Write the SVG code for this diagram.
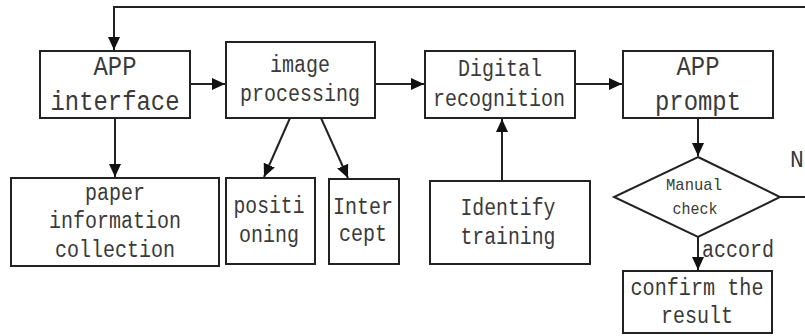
<svg xmlns="http://www.w3.org/2000/svg" width="805" height="336" viewBox="0 0 805 336">
  <style>
    .box { fill: #fff; stroke: #222; stroke-width: 2; }
    .ln { fill: none; stroke: #222; stroke-width: 2; }
    .arr { marker-end: url(#ah); }
    text { font-family: "Liberation Mono", "DejaVu Sans Mono", monospace; fill: #3a3a3a; text-anchor: middle; }
    .t { font-size: 23px; }
    .tb { font-size: 27px; }
    .ts { font-size: 17px; }
  </style>
  <defs>
    <marker id="ah" markerUnits="userSpaceOnUse" markerWidth="14" markerHeight="14" viewBox="0 0 14 14" refX="13" refY="7" orient="auto">
      <path d="M0,1 L13,7 L0,13 Z" fill="#111"/>
    </marker>
  </defs>

  <!-- connectors -->
  <g id="connectors">
    <polyline class="ln arr" points="805,7 114,7 114,50"/>
    <line class="ln arr" x1="190" y1="84" x2="225" y2="84"/>
    <line class="ln arr" x1="375" y1="84" x2="424" y2="84"/>
    <line class="ln arr" x1="575" y1="84" x2="622" y2="84"/>
    <line class="ln arr" x1="115" y1="118" x2="115" y2="177"/>
    <line class="ln arr" x1="290" y1="118" x2="264" y2="177"/>
    <line class="ln arr" x1="321" y1="118" x2="348" y2="178"/>
    <line class="ln arr" x1="502" y1="181" x2="502" y2="119"/>
    <line class="ln arr" x1="698" y1="118" x2="698" y2="156"/>
    <line class="ln arr" x1="698" y1="237" x2="698" y2="270"/>
    <line class="ln" x1="780" y1="197" x2="805" y2="197"/>
  </g>

  <g id="app-interface">
    <rect class="box" x="40" y="51" width="150" height="67"/>
    <text class="tb" x="115" y="75" textLength="43" lengthAdjust="spacingAndGlyphs">APP</text>
    <text class="tb" x="115" y="110" textLength="129" lengthAdjust="spacingAndGlyphs">interface</text>
  </g>

  <g id="image-processing">
    <rect class="box" x="226" y="42" width="149" height="76"/>
    <text class="t" x="300" y="72" textLength="60" lengthAdjust="spacingAndGlyphs">image</text>
    <text class="t" x="300" y="101" textLength="120" lengthAdjust="spacingAndGlyphs">processing</text>
  </g>

  <g id="digital-recognition">
    <rect class="box" x="425" y="51" width="150" height="67"/>
    <text class="t" x="500" y="76" textLength="84" lengthAdjust="spacingAndGlyphs">Digital</text>
    <text class="t" x="499" y="106" textLength="132" lengthAdjust="spacingAndGlyphs">recognition</text>
  </g>

  <g id="app-prompt">
    <rect class="box" x="623" y="51" width="150" height="67"/>
    <text class="tb" x="698" y="75" textLength="43" lengthAdjust="spacingAndGlyphs">APP</text>
    <text class="tb" x="698" y="110" textLength="86" lengthAdjust="spacingAndGlyphs">prompt</text>
  </g>

  <g id="paper-information">
    <rect class="box" x="11" y="178" width="208" height="88"/>
    <text class="t" x="115" y="200" textLength="60" lengthAdjust="spacingAndGlyphs">paper</text>
    <text class="t" x="115" y="228" textLength="132" lengthAdjust="spacingAndGlyphs">information</text>
    <text class="t" x="115" y="257" textLength="120" lengthAdjust="spacingAndGlyphs">collection</text>
  </g>

  <g id="positioning">
    <rect class="box" x="226" y="178" width="89" height="86"/>
    <text class="t" x="269" y="213" textLength="71" lengthAdjust="spacingAndGlyphs">positi</text>
    <text class="t" x="269" y="242" textLength="60" lengthAdjust="spacingAndGlyphs">oning</text>
  </g>

  <g id="intercept">
    <rect class="box" x="329" y="179" width="70" height="85"/>
    <text class="t" x="363" y="214" textLength="60" lengthAdjust="spacingAndGlyphs">Inter</text>
    <text class="t" x="363" y="241" textLength="48" lengthAdjust="spacingAndGlyphs">cept</text>
  </g>

  <g id="identify-training">
    <rect class="box" x="430" y="181" width="160" height="83"/>
    <text class="t" x="508" y="215" textLength="95" lengthAdjust="spacingAndGlyphs">Identify</text>
    <text class="t" x="508" y="244" textLength="95" lengthAdjust="spacingAndGlyphs">training</text>
  </g>

  <g id="manual-check">
    <polygon class="box" points="698,157 780,197 698,237 614,197"/>
    <text class="ts" x="694" y="190" textLength="56" lengthAdjust="spacingAndGlyphs">Manual</text>
    <text class="ts" x="695" y="214" textLength="45" lengthAdjust="spacingAndGlyphs">check</text>
  </g>

  <g id="confirm-result">
    <rect class="box" x="623" y="271" width="149" height="62"/>
    <text class="t" x="697" y="295" textLength="133" lengthAdjust="spacingAndGlyphs">confirm the</text>
    <text class="t" x="697" y="323" textLength="72" lengthAdjust="spacingAndGlyphs">result</text>
  </g>

  <g id="labels">
    <text class="t" x="702" y="257" style="text-anchor:start" textLength="72" lengthAdjust="spacingAndGlyphs">accord</text>
    <text class="t" x="790" y="167" style="text-anchor:start">N</text>
  </g>
</svg>
